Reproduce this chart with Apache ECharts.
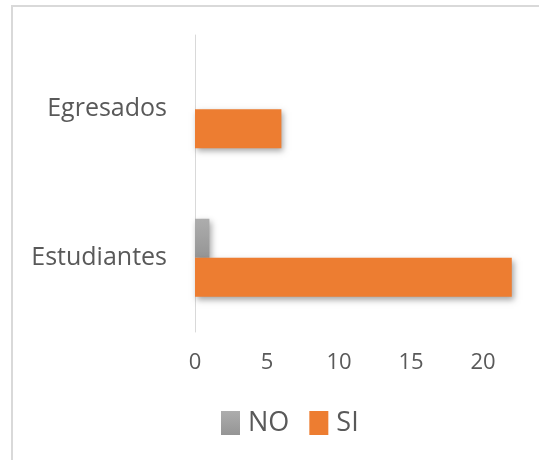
<!DOCTYPE html>
<html>
<head>
<meta charset="utf-8">
<script src="https://cdn.jsdelivr.net/npm/echarts@6/dist/echarts.min.js"></script>
<style>html,body{margin:0;padding:0;background:#fff}#c{width:539px;height:460px}</style>
</head>
<body>
<div id="c"></div>
<script>
var categories = ['Estudiantes', 'Egresados'];
var seriesNames = ['NO', 'SI'];
var noValues = [1, 0];
var siValues = [22, 6];
var axisMin = 0, axisMax = 25, axisStep = 5;

var chart = echarts.init(document.getElementById('c'), null, {renderer: 'canvas'});
var FONT = 'Open Sans';
var TXT = '#595959';
var shadow = {shadowBlur: 6, shadowOffsetX: 2, shadowOffsetY: 3, shadowColor: 'rgba(0,0,0,0.35)'};
var grayGrad = new echarts.graphic.LinearGradient(0, 0, 0, 1, [
  {offset: 0, color: '#adadad'}, {offset: 1, color: '#959595'}
]);
chart.setOption({
  animation: false,
  backgroundColor: '#ffffff',
  graphic: [{
    type: 'rect', silent: true, z: -1,
    shape: {x: 12, y: 6, width: 700, height: 700},
    style: {fill: 'none', stroke: '#d9d9d9', lineWidth: 2}
  }],
  grid: {left: 195, top: 35, width: 360, height: 297, containLabel: false, outerBoundsMode: 'none'},
  legend: {
    data: seriesNames, left: 221, top: 409.5, padding: 0, itemWidth: 19, itemHeight: 24, itemGap: 20,
    icon: 'rect',
    itemStyle: {shadowBlur: 0, shadowOffsetX: 0, shadowOffsetY: 0, shadowColor: 'transparent'},
    textStyle: {fontFamily: FONT, fontSize: 27, lineHeight: 24, color: TXT, padding: [0, 0, 0, 3]}
  },
  xAxis: {
    type: 'value', min: axisMin, max: axisMax, interval: axisStep,
    axisLine: {show: false}, axisTick: {show: false}, splitLine: {show: false},
    axisLabel: {fontFamily: FONT, fontSize: 22, color: TXT, margin: 31, verticalAlign: 'middle'}
  },
  yAxis: {
    type: 'category', data: categories,
    axisLine: {show: true, lineStyle: {color: '#d9d9d9', width: 1}},
    axisTick: {show: false},
    axisLabel: {fontFamily: FONT, fontSize: 25, color: TXT, margin: 28}
  },
  series: [
    {name: 'NO', type: 'bar', data: noValues, barWidth: 39, barGap: '0%',
     itemStyle: Object.assign({color: grayGrad}, shadow)},
    {name: 'SI', type: 'bar', data: siValues, barWidth: 39, barGap: '0%',
     itemStyle: Object.assign({color: '#ED7D31'}, shadow)}
  ]
});
</script>
</body>
</html>
